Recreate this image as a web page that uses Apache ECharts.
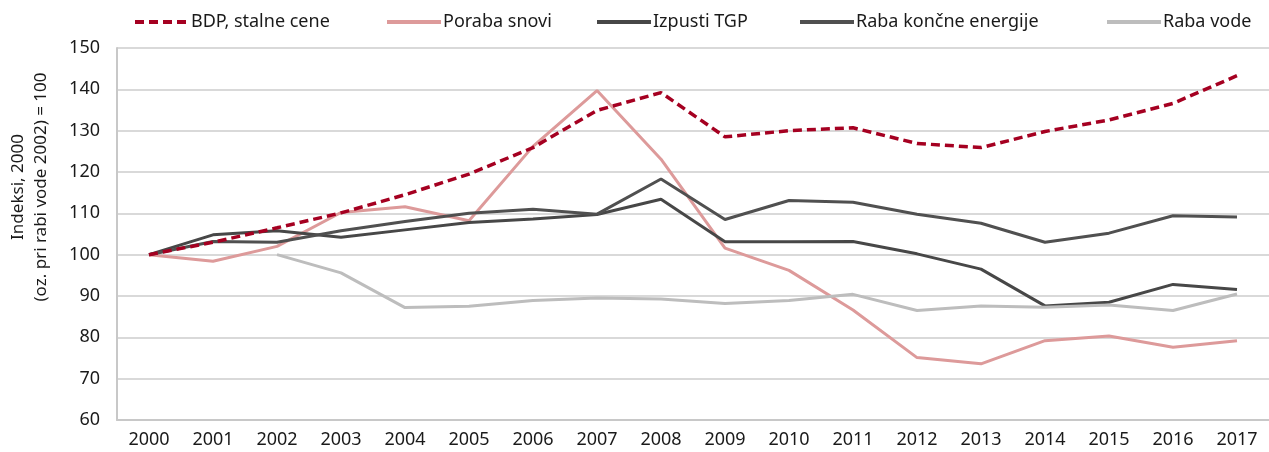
<!DOCTYPE html>
<html>
<head>
<meta charset="utf-8">
<script src="https://cdn.jsdelivr.net/npm/echarts@6/dist/echarts.min.js"></script>
<style>html,body{margin:0;padding:0;background:#fff}#c{width:1269px;height:452px}</style>
</head>
<body>
<div id="c"></div>
<script>
const years = ['2000','2001','2002','2003','2004','2005','2006','2007','2008','2009','2010','2011','2012','2013','2014','2015','2016','2017'];
const bdp = [100,103.0,106.5,110.1,114.5,119.5,125.9,134.9,139.2,128.5,130.0,130.7,126.9,125.9,129.8,132.6,136.6,143.3];
const porabaSnovi = [100,98.4,102.0,110.2,111.6,108.2,126.2,139.7,123.1,101.6,96.2,86.6,75.1,73.6,79.2,80.3,77.6,79.2];
const izpustiTGP = [100,104.8,105.8,104.2,106.0,107.8,108.6,109.7,113.4,103.1,103.1,103.2,100.2,96.5,87.6,88.5,92.8,91.6];
const rabaEnergije = [100,103.2,103.0,105.8,108.0,110.0,111.0,109.8,118.3,108.5,113.1,112.7,109.8,107.6,103.0,105.2,109.4,109.1];
const rabaVode = [null,null,100,95.6,87.2,87.5,88.9,89.5,89.3,88.2,88.9,90.4,86.5,87.6,87.3,87.8,86.5,90.5];
const yTicks = [60,70,80,90,100,110,120,130,140,150];
const yTitle = 'Indeksi, 2000\n(oz. pri rabi vode 2002) = 100';

const FONT = 'Noto Sans';
const names = ['BDP, stalne cene','Poraba snovi','Izpusti TGP','Raba končne energije','Raba vode'];
const legendLefts = [128, 380, 590, 793, 1100];
const chart = echarts.init(document.getElementById('c'));
chart.setOption({
  animation: false,
  textStyle: {fontFamily: FONT},
  legend: names.map((n, i) => ({
    data: [n], left: legendLefts[i], top: 8, itemWidth: 54, itemHeight: 14, itemGap: 0,
    itemStyle: {opacity: 0},
    lineStyle: {width: 4},
    textStyle: {fontFamily: FONT, fontSize: 18, color: '#1a1a1a', padding: [0,0,0,-3]}
  })),
  graphic: [{
    type: 'text', x: 30, y: 187, rotation: Math.PI / 2,
    style: {text: yTitle, font: '17px "Noto Sans"', fill: '#1a1a1a', align: 'center', verticalAlign: 'middle', lineHeight: 23}
  }],
  grid: {left: 117, right: -10, top: 48, bottom: 32, containLabel: false},
  xAxis: {
    type: 'category', data: years, boundaryGap: true,
    axisLine: {lineStyle: {color: '#c8c8c8', width: 2}},
    axisTick: {show: false},
    axisLabel: {color: '#1a1a1a', fontSize: 18, margin: 11, fontFamily: FONT, interval: 0}
  },
  yAxis: {
    type: 'value', min: yTicks[0], max: yTicks[yTicks.length-1], interval: 10,
    axisLine: {show: true, lineStyle: {color: '#c8c8c8', width: 2}},
    axisTick: {show: false},
    axisLabel: {color: '#1a1a1a', fontSize: 18, margin: 17, fontFamily: FONT},
    splitLine: {lineStyle: {color: '#cccccc', width: 1.5}}
  },
  series: [
    {name: names[0], type: 'line', data: bdp, symbol: 'none', z: 5,
      lineStyle: {color: '#a50021', width: 3.5, type: [9, 5]}, itemStyle: {color: '#a50021'}},
    {name: names[1], type: 'line', data: porabaSnovi, symbol: 'none',
      lineStyle: {color: '#dd9a9a', width: 3}, itemStyle: {color: '#dd9a9a'}},
    {name: names[2], type: 'line', data: izpustiTGP, symbol: 'none',
      lineStyle: {color: '#474747', width: 3}, itemStyle: {color: '#474747'}},
    {name: names[3], type: 'line', data: rabaEnergije, symbol: 'none',
      lineStyle: {color: '#505050', width: 3}, itemStyle: {color: '#505050'}},
    {name: names[4], type: 'line', data: rabaVode, symbol: 'none', connectNulls: false,
      lineStyle: {color: '#bdbdbd', width: 3}, itemStyle: {color: '#bdbdbd'}}
  ]
});
</script>
</body>
</html>
